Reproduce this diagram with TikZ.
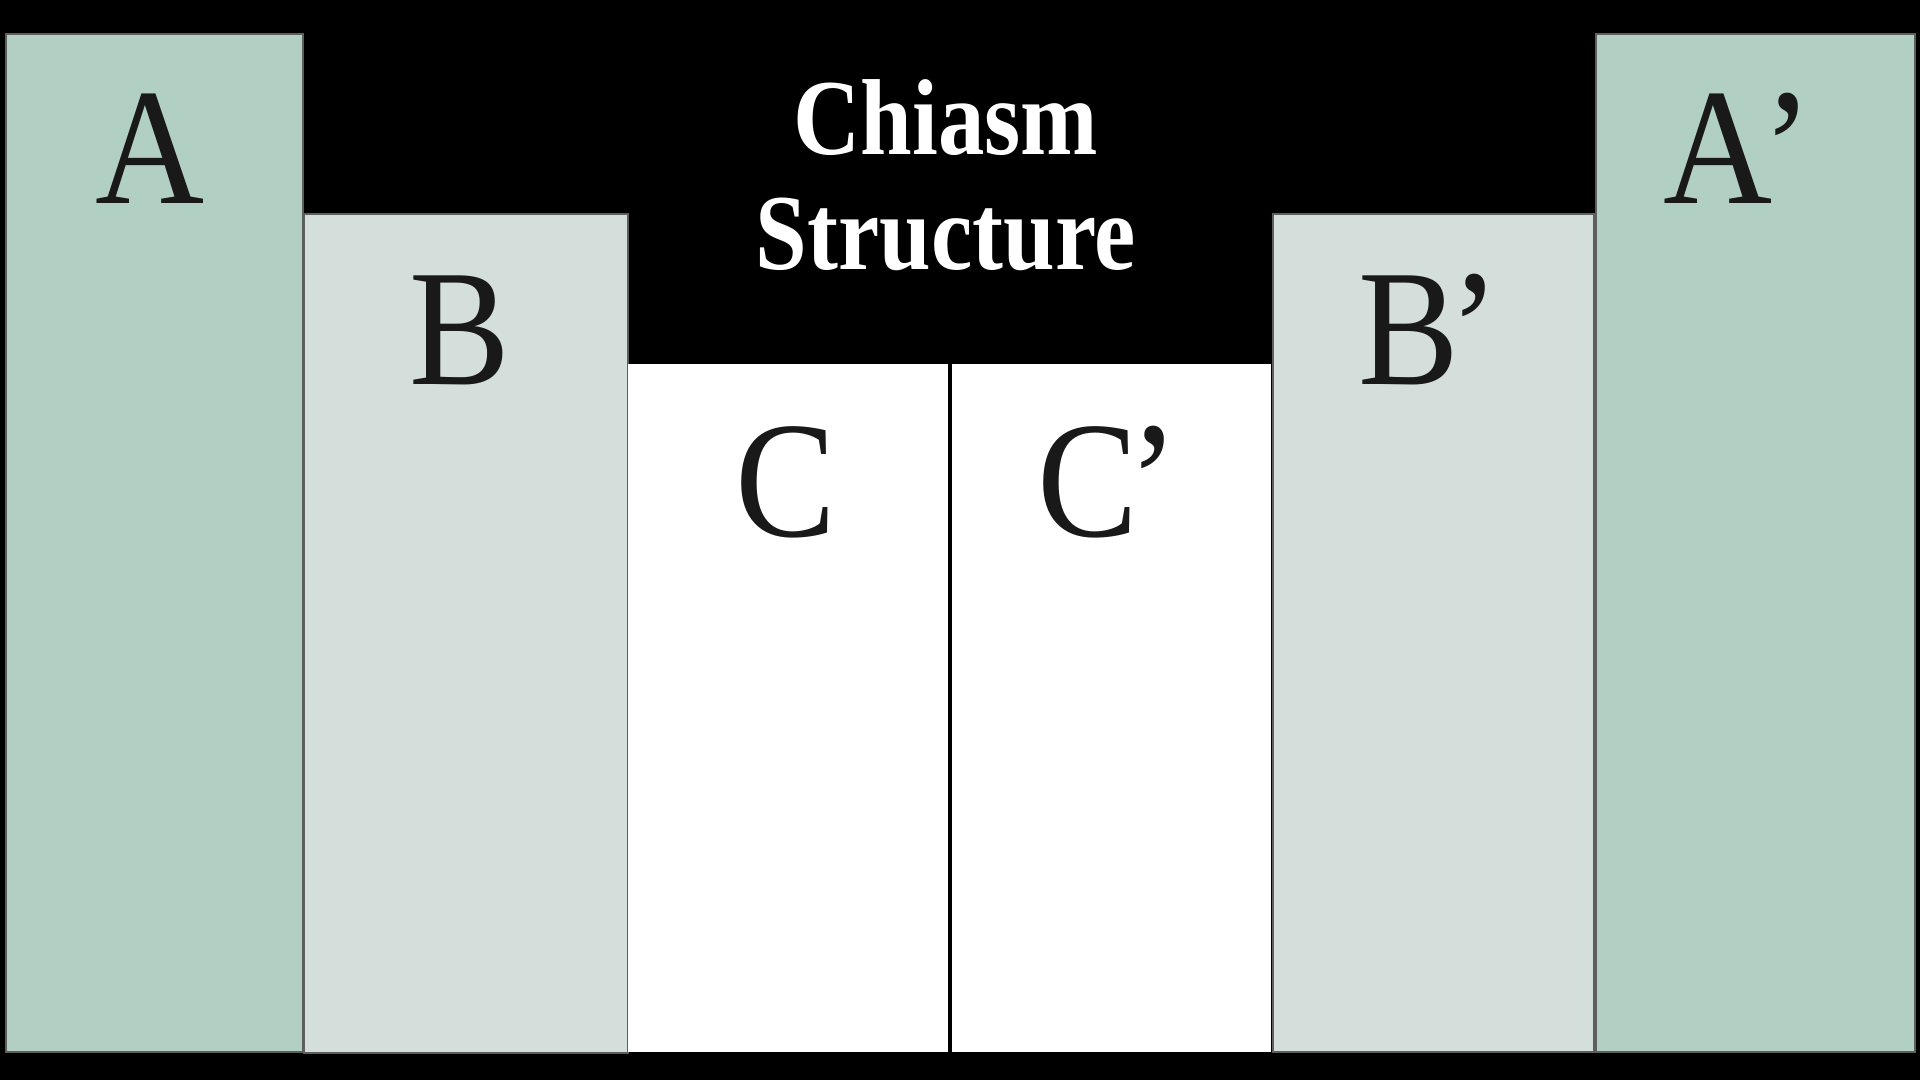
\documentclass[tikz,border=0pt]{standalone}
\usepackage{fontspec}
\setmainfont{Liberation Serif}
\newfontfamily\titlefont[FakeStretch=0.86]{Liberation Serif}
\newfontfamily\letterfont[FakeStretch=0.91]{Liberation Serif}
\definecolor{sage}{HTML}{B2CFC4}
\definecolor{mist}{HTML}{D4DEDB}
\definecolor{edge}{HTML}{5E5E5E}
\newcommand{\prm}{\kern-10pt’}
\tikzset{
  panel/.style={draw=edge, line width=2pt, anchor=north west, inner sep=0pt},
  letter/.style={anchor=base, text=black!90, font=\letterfont\fontsize{166}{166}\selectfont, inner sep=0pt},
  titletext/.style={anchor=base, text=white, font=\titlefont\bfseries\fontsize{108}{108}\selectfont, inner sep=0pt}
}
\begin{document}
\begin{tikzpicture}[x=1pt,y=1pt]
\fill[black] (0,0) rectangle (1920,1080);
\useasboundingbox (0,0) rectangle (1920,1080);
% panels (x from left, y measured down from top -> 1080 - y)
\node[panel, fill=sage, minimum width=297pt, minimum height=1018pt] (pA) at (5,1047) {};
\node[panel, fill=mist, minimum width=324pt, minimum height=839pt] (pB) at (303,867) {};
\node[panel, fill=white, draw=none, minimum width=320pt, minimum height=688pt] (pC) at (627,717) {};
\node[panel, fill=white, draw=none, minimum width=319pt, minimum height=688pt] (pCp) at (951,717) {};
\node[panel, fill=mist, minimum width=321pt, minimum height=838pt] (pBp) at (1272,867) {};
\node[panel, fill=sage, minimum width=319pt, minimum height=1018pt] (pAp) at (1595,1047) {};
% letters
\node[letter] (tA) at (150,876) {A};
\node[letter] (tB) at (460,695) {B};
\node[letter] (tC) at (786,543) {C};
\node[letter] (tCp) at (1108,543) {C\prm};
\node[letter] (tBp) at (1429,695) {B\prm};
\node[letter] (tAp) at (1738,876) {A\prm};
% title
\node[titletext] (t1) at (946,925) {Chiasm};
\node[titletext] (t2) at (946,810) {Structure};
\end{tikzpicture}
\end{document}
